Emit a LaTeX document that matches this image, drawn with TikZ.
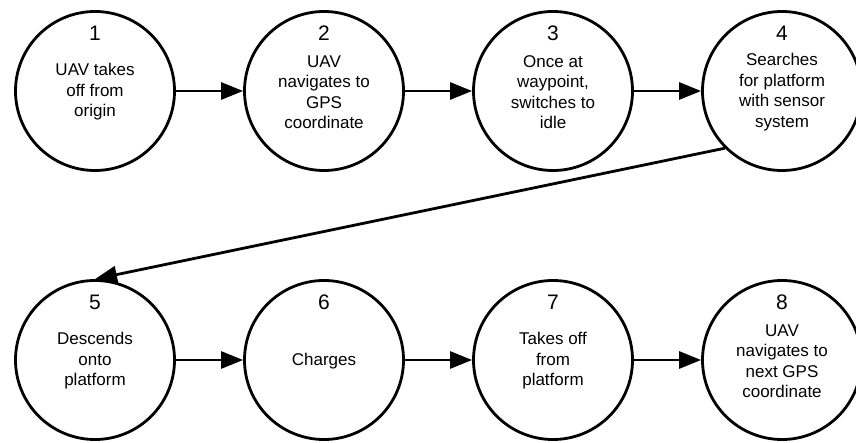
\documentclass[tikz,border=0pt]{standalone}
\usepackage{fontspec}
\setmainfont{Liberation Sans}
\usetikzlibrary{arrows.meta}
\begin{document}
\begin{tikzpicture}[x=1pt,y=-1pt,
  stepcircle/.style={draw=black,line width=2.8pt,circle,minimum size=159pt,inner sep=0pt,fill=white},
  stepnum/.style={font=\fontsize{21}{24}\selectfont,inner sep=0pt,anchor=center},
  steptext/.style={font=\fontsize{17}{20.5}\selectfont,align=center,inner sep=0pt,anchor=center},
  flow/.style={line width=2.8pt,-{Triangle[length=22pt,width=17pt]}}]
  \useasboundingbox (0,0) rectangle (856,443);
  % step circles, top row then bottom row
  \node[stepcircle] (s1) at (95,91) {};
  \node[stepcircle] (s2) at (324,91) {};
  \node[stepcircle] (s3) at (553,91) {};
  \node[stepcircle] (s4) at (782,91) {};
  \node[stepcircle] (s5) at (95,360) {};
  \node[stepcircle] (s6) at (324,360) {};
  \node[stepcircle] (s7) at (553,360) {};
  \node[stepcircle] (s8) at (782,360) {};
  % step numbers
  \foreach \i in {1,...,8}{
    \node[stepnum] (s\i n) at ([yshift=58pt]s\i.center) {\i};
  }
  % step descriptions
  \node[steptext] (s1t) at ([yshift=-1pt]s1.center) {UAV takes\\off from\\origin};
  \node[steptext] (s2t) at ([yshift=-1pt]s2.center) {UAV\\navigates to\\GPS\\coordinate};
  \node[steptext] (s3t) at ([yshift=-1pt]s3.center) {Once at\\waypoint,\\switches to\\idle};
  \node[steptext] (s4t) at ([yshift=-1pt]s4.center) {Searches\\for platform\\with sensor\\system};
  \node[steptext] (s5t) at ([yshift=-1pt]s5.center) {Descends\\onto\\platform};
  \node[steptext] (s6t) at ([yshift=-1pt]s6.center) {Charges};
  \node[steptext] (s7t) at ([yshift=-1pt]s7.center) {Takes off\\from\\platform};
  \node[steptext] (s8t) at ([yshift=-1pt]s8.center) {UAV\\navigates to\\next GPS\\coordinate};
  % connectors
  \draw[flow] (s1.east) -- (s2.west);
  \draw[flow] (s2.east) -- (s3.west);
  \draw[flow] (s3.east) -- (s4.west);
  \draw[flow] (s4.south west) -- (s5.north);
  \draw[flow] (s5.east) -- (s6.west);
  \draw[flow] (s6.east) -- (s7.west);
  \draw[flow] (s7.east) -- (s8.west);
\end{tikzpicture}
\end{document}
